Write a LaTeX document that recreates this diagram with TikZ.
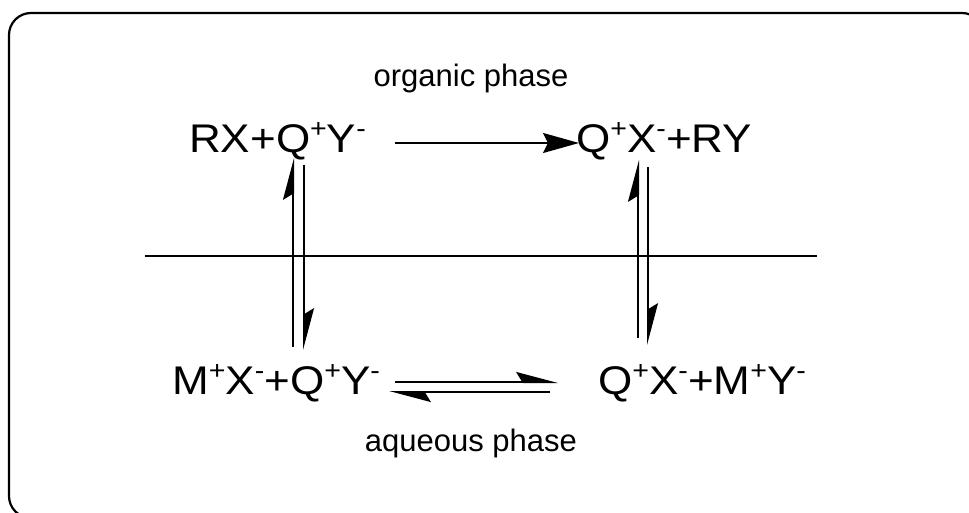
\documentclass[tikz,border=0pt]{standalone}
\usepackage{fontspec}
\setmainfont{Liberation Sans}
\newfontfamily\chemfont[FakeStretch=1.1]{Liberation Sans}
\usetikzlibrary{arrows.meta}
\newcommand\sps[1]{\raisebox{15pt}{\fontsize{26}{26}\selectfont #1}}
\tikzset{
  formula/.style={inner sep=0pt, anchor=base west, font=\chemfont\fontsize{40}{42}\selectfont},
  phaselabel/.style={inner sep=0pt, anchor=base, font=\fontsize{31}{34}\selectfont},
  rxn/.style={line width=2pt, -{Stealth[length=36pt,width=20pt,inset=5pt]}},
  half/.style={line width=2pt, -{Stealth[length=38pt,width=20pt,inset=6pt,harpoon]}},
  frame/.style={line width=2.2pt, rounded corners=22pt},
  interface/.style={line width=2pt}
}
\begin{document}
\begin{tikzpicture}[x=1pt,y=-1pt]
\useasboundingbox (0,0) rectangle (969,513);
\clip (0,0) rectangle (969,513);
\draw[frame] (9,13) rectangle (984,518);

\node[phaselabel] (org) at (471,87) {organic phase};
\node[phaselabel] (aq) at (471,451) {aqueous phase};

\node[formula] (rx) at (189,153) {RX+Q\sps{+}Y\sps{-}};
\node[formula] (qx) at (576,153) {Q\sps{+}X\sps{-}+RY};
\node[formula] (mx) at (172,394) {M\sps{+}X\sps{-}+Q\sps{+}Y\sps{-}};
\node[formula] (qm) at (598,394) {Q\sps{+}X\sps{-}+M\sps{+}Y\sps{-}};

\coordinate (ifl) at (145,256);
\coordinate (ifr) at (817,256);
\draw[interface] (ifl) -- (ifr);

\coordinate (ta) at (395,143);
\coordinate (tb) at (579,143);
\draw[rxn] (ta) -- (tb);

\coordinate (lu1) at (293,347);
\coordinate (lu2) at (293,158);
\coordinate (ld1) at (304,165);
\coordinate (ld2) at (304,350);
\draw[half] (lu1) -- (lu2);
\draw[half] (ld1) -- (ld2);

\coordinate (ru1) at (638,338);
\coordinate (ru2) at (638,160);
\coordinate (rd1) at (648,167);
\coordinate (rd2) at (648,345);
\draw[half] (ru1) -- (ru2);
\draw[half] (rd1) -- (rd2);

\coordinate (bf1) at (395,382);
\coordinate (bf2) at (558,382);
\coordinate (bb1) at (550,392);
\coordinate (bb2) at (389,392);
\draw[half] (bf1) -- (bf2);
\draw[half] (bb1) -- (bb2);
\end{tikzpicture}
\end{document}
